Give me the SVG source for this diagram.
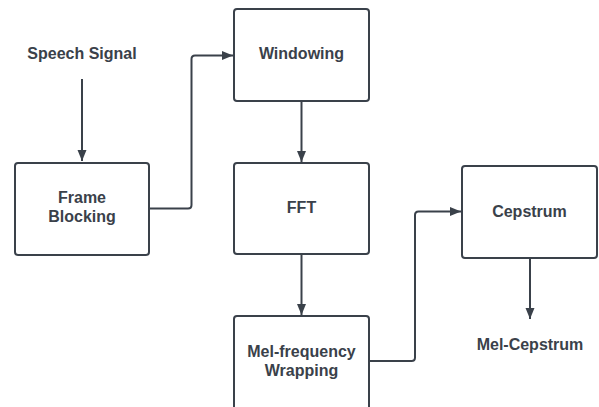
<svg xmlns="http://www.w3.org/2000/svg" width="599" height="407" viewBox="0 0 599 407">
<defs>
<marker id="arr" markerWidth="12" markerHeight="10" refX="11" refY="4.5" orient="auto" markerUnits="userSpaceOnUse">
<path d="M0,0 L11,4.5 L0,9 Z" fill="#3a414a"/>
</marker>
<style>
.box{fill:#ffffff;stroke:#3a414a;stroke-width:2}
.lbl{font-family:"Liberation Sans",Arial,sans-serif;font-weight:bold;font-size:16px;fill:#3a414a;text-anchor:middle}
.con{fill:none;stroke:#3a414a;stroke-width:2;marker-end:url(#arr)}
</style>
</defs>
<rect width="599" height="407" fill="#ffffff"/>
<g id="speech-signal"><text class="lbl" x="82" y="59">Speech Signal</text></g>
<g id="frame-blocking">
<rect class="box" x="15" y="163" width="134" height="92" rx="3"/>
<text class="lbl" x="82" y="203">Frame</text>
<text class="lbl" x="82" y="222">Blocking</text>
</g>
<g id="windowing">
<rect class="box" x="234" y="9" width="135" height="92" rx="3"/>
<text class="lbl" x="301.5" y="59">Windowing</text>
</g>
<g id="fft">
<rect class="box" x="234" y="163" width="135" height="91" rx="3"/>
<text class="lbl" x="301.5" y="213">FFT</text>
</g>
<g id="mel-frequency">
<rect class="box" x="234" y="316" width="135" height="100" rx="3"/>
<text class="lbl" x="301.5" y="357">Mel-frequency</text>
<text class="lbl" x="301.5" y="376">Wrapping</text>
</g>
<g id="cepstrum">
<rect class="box" x="462" y="166" width="135" height="92" rx="3"/>
<text class="lbl" x="529.5" y="217">Cepstrum</text>
</g>
<g id="mel-cepstrum"><text class="lbl" x="530" y="350">Mel-Cepstrum</text></g>
<g id="connectors">
<path class="con" d="M82,79 L82,161"/>
<path class="con" d="M150,208.5 L188,208.5 Q191.5,208.5 191.5,205 L191.5,59 Q191.5,55.5 195,55.5 L233,55.5"/>
<path class="con" d="M301.5,102 L301.5,162"/>
<path class="con" d="M301.5,255 L301.5,315"/>
<path class="con" d="M370,361 L411.5,361 Q415,361 415,357.5 L415,215 Q415,211.5 418.5,211.5 L461,211.5"/>
<path class="con" d="M530,259 L530,319"/>
</g>
</svg>
